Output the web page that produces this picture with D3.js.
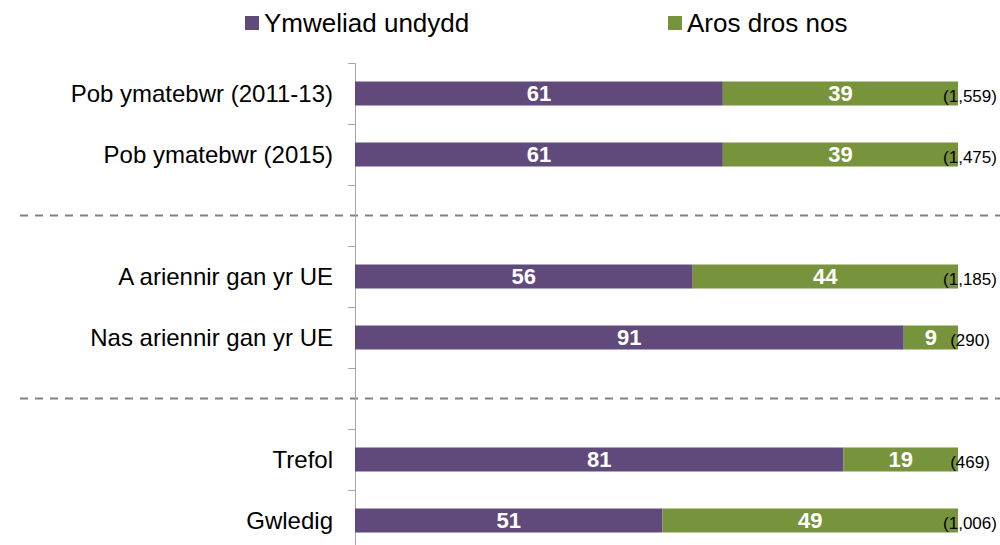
<!DOCTYPE html>
<html>
<head>
<meta charset="utf-8">
<script src="https://cdn.jsdelivr.net/npm/d3@7"></script>
<style>
  body { margin: 0; background: #fff; }
  svg { display: block; font-family: "Liberation Sans", Arial, sans-serif; }
</style>
</head>
<body>
<svg id="chart" width="1000" height="545"></svg>
<script>
// data
const categories = ["Pob ymatebwr (2011-13)", "Pob ymatebwr (2015)", "A ariennir gan yr UE", "Nas ariennir gan yr UE", "Trefol", "Gwledig"]
const dayVisit = [61, 61, 56, 91, 81, 51]
const overnight = [39, 39, 44, 9, 19, 49]
const bases = ["(1,559)", "(1,475)", "(1,185)", "(290)", "(469)", "(1,006)"]
const seriesNames = ["Ymweliad undydd", "Aros dros nos"]
const colours = ["#604a7b", "#77933c"]

// row order, with two empty slots where the dashed separators sit
const rows = [categories[0], categories[1], "gap1", categories[2], categories[3], "gap2", categories[4], categories[5]]

const svg = d3.select("#chart")
const width = 1000

const x = d3.scaleLinear().domain([0, 100]).range([355, 958])
const y = d3.scaleBand().domain(rows).range([63, 551]).paddingInner(0).paddingOuter(0)
const barH = 24

// separators
;["gap1", "gap2"].forEach(g => {
    svg.append("line")
        .attr("x1", 20).attr("x2", width)
        .attr("y1", y(g) + y.bandwidth() / 2).attr("y2", y(g) + y.bandwidth() / 2)
        .attr("stroke", "#808080")
        .attr("stroke-width", 2)
        .attr("stroke-dasharray", "8,7")
})

// axis: line + ticks at band boundaries
const axis = svg.append("g").attr("stroke", "#a6a6a6").attr("stroke-width", 1)
axis.append("line")
    .attr("x1", x(0) + 0.5).attr("x2", x(0) + 0.5)
    .attr("y1", y.range()[0]).attr("y2", y.range()[1])
rows.forEach(r => {
    axis.append("line")
        .attr("x1", x(0) - 7).attr("x2", x(0) + 0.5)
        .attr("y1", Math.round(y(r)) + 0.5).attr("y2", Math.round(y(r)) + 0.5)
})

// category labels
categories.forEach(c => {
    svg.append("text")
        .attr("x", x(0) - 22)
        .attr("y", y(c) + y.bandwidth() / 2)
        .attr("dy", "0.35em")
        .attr("text-anchor", "end")
        .style("font-size", "24px")
        .attr("fill", "#000")
        .text(c)
})

// stacked bars
categories.forEach((c, i) => {
    const top = y(c) + (y.bandwidth() - barH) / 2
    const segs = [[0, dayVisit[i]], [dayVisit[i], dayVisit[i] + overnight[i]]]
    segs.forEach((s, k) => {
        svg.append("rect")
            .attr("x", x(s[0]))
            .attr("y", top)
            .attr("width", x(s[1]) - x(s[0]))
            .attr("height", barH)
            .attr("fill", colours[k])
        svg.append("text")
            .attr("x", (x(s[0]) + x(s[1])) / 2)
            .attr("y", top + barH / 2)
            .attr("dy", "0.36em")
            .attr("text-anchor", "middle")
            .style("font-size", "22px")
            .style("font-weight", "bold")
            .attr("fill", "#fff")
            .text(s[1] - s[0])
    })
    svg.append("text")
        .attr("x", x(100) + 12)
        .attr("y", top + barH / 2 + 8)
        .attr("text-anchor", "middle")
        .style("font-size", "17px")
        .attr("fill", "#000")
        .text(bases[i])
})

// legend
const legendX = [245, 668]
seriesNames.forEach((n, k) => {
    svg.append("rect")
        .attr("x", legendX[k]).attr("y", 16)
        .attr("width", 14).attr("height", 14)
        .attr("fill", colours[k])
    svg.append("text")
        .attr("x", legendX[k] + 19)
        .attr("y", 23)
        .attr("dy", "0.35em")
        .style("font-size", "26px")
        .attr("fill", "#000")
        .text(n)
})
</script>
</body>
</html>
